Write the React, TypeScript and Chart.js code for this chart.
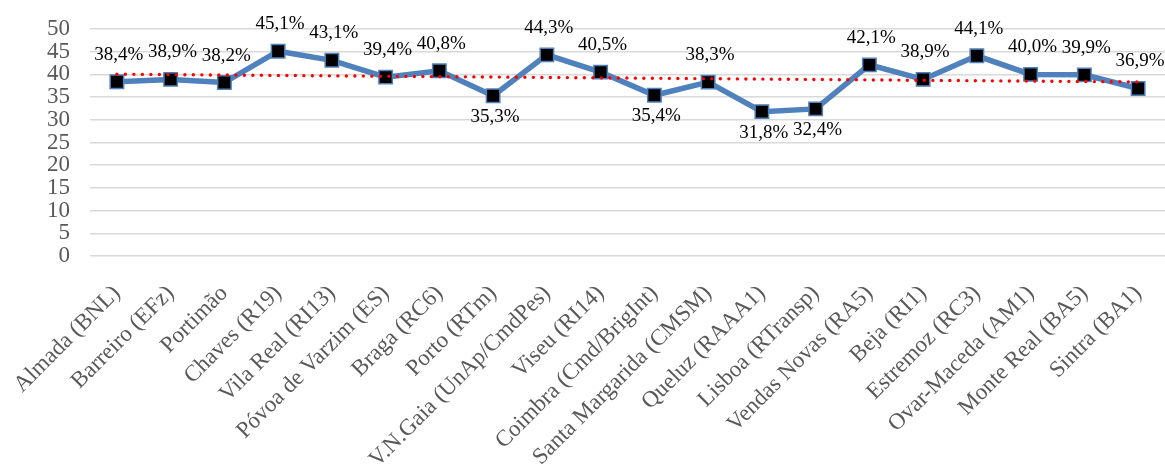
import React, { useEffect, useRef } from "react";
import { Chart, registerables } from "chart.js";

Chart.register(...registerables);

const units: string[] = [
  "Almada (BNL)",
  "Barreiro (EFz)",
  "Portimão",
  "Chaves (R19)",
  "Vila Real (RI13)",
  "Póvoa de Varzim (ES)",
  "Braga (RC6)",
  "Porto (RTm)",
  "V.N.Gaia (UnAp/CmdPes)",
  "Viseu (RI14)",
  "Coimbra (Cmd/BrigInt)",
  "Santa Margarida (CMSM)",
  "Queluz (RAAA1)",
  "Lisboa (RTransp)",
  "Vendas Novas (RA5)",
  "Beja (RI1)",
  "Estremoz (RC3)",
  "Ovar-Maceda (AM1)",
  "Monte Real (BA5)",
  "Sintra (BA1)",
];

const percentages: number[] = [
  38.4, 38.9, 38.2, 45.1, 43.1, 39.4, 40.8, 35.3, 44.3, 40.5,
  35.4, 38.3, 31.8, 32.4, 42.1, 38.9, 44.1, 40.0, 39.9, 36.9,
];

// values whose label sits under the marker
const labelsBelow: number[] = [7, 10, 12, 13];

const yTicks: number[] = [0, 5, 10, 15, 20, 25, 30, 35, 40, 45, 50];

// least-squares linear trend over the series
function linearTrend(values: number[]): number[] {
  const n = values.length;
  const mx = (n - 1) / 2;
  const my = values.reduce((a, b) => a + b, 0) / n;
  let num = 0;
  let den = 0;
  values.forEach((v, i) => {
    num += (i - mx) * (v - my);
    den += (i - mx) * (i - mx);
  });
  const slope = num / den;
  return values.map((_, i) => my + slope * (i - mx));
}

const SERIF = '"Liberation Serif", "Times New Roman", serif';

// percentage labels next to each marker
const valueLabels = {
  id: "valueLabels",
  afterDatasetsDraw(chart: any) {
    const meta = chart.getDatasetMeta(1);
    const ctx = chart.ctx;
    ctx.save();
    ctx.font = `19px ${SERIF}`;
    ctx.fillStyle = "#000000";
    ctx.textAlign = "center";
    ctx.textBaseline = "middle";
    meta.data.forEach((pt: any, i: number) => {
      const text = percentages[i].toFixed(1).replace(".", ",") + "%";
      const dy = labelsBelow.includes(i) ? 21 : -27;
      ctx.fillText(text, pt.x + 2, pt.y + dy);
    });
    ctx.restore();
  },
};

export default function App() {
  const canvasRef = useRef<HTMLCanvasElement | null>(null);

  useEffect(() => {
    if (!canvasRef.current) return;
    const chart = new Chart(canvasRef.current, {
      type: "line",
      data: {
        labels: units,
        datasets: [
          {
            label: "Tendência",
            data: linearTrend(percentages),
            borderColor: "#FF0000",
            borderWidth: 3.4,
            borderDash: [0, 8.5],
            borderCapStyle: "round",
            pointRadius: 0,
            fill: false,
            order: 0,
          },
          {
            label: "Percentagem",
            data: percentages,
            borderColor: "#4F81BD",
            borderWidth: 5.5,
            pointStyle: "rect",
            pointRadius: 9.5,
            pointBackgroundColor: "#000000",
            pointBorderColor: "#4F81BD",
            pointBorderWidth: 1.5,
            fill: false,
            order: 1,
          },
        ],
      },
      options: {
        responsive: false,
        animation: false,
        layout: {
          autoPadding: false,
          padding: { top: 29, left: 0, right: 0, bottom: 0 },
        },
        plugins: {
          legend: { display: false },
          tooltip: { enabled: false },
        },
        scales: {
          x: {
            offset: true,
            grid: { display: false },
            border: { display: false },
            ticks: {
              autoSkip: false,
              minRotation: 45,
              maxRotation: 45,
              padding: 16,
              color: "#595959",
              font: { family: SERIF, size: 23 },
            },
            afterFit(scale: any) {
              scale.height = 208;
              scale.paddingLeft = 0;
              scale.paddingRight = 0;
            },
          },
          y: {
            min: 0,
            max: 50,
            afterBuildTicks(scale: any) {
              scale.ticks = yTicks.map((v) => ({ value: v }));
            },
            grid: {
              color: "#D9D9D9",
              lineWidth: 1.5,
              drawTicks: false,
            },
            border: { display: false },
            ticks: {
              autoSkip: false,
              padding: 20,
              color: "#595959",
              font: { family: SERIF, size: 23 },
            },
            afterFit(scale: any) {
              scale.width = 90;
              scale.paddingTop = 0;
              scale.paddingBottom = 0;
            },
          },
        },
      },
      plugins: [valueLabels],
    });
    return () => chart.destroy();
  }, []);

  return (
    <div style={{ position: "absolute", left: 0, top: 0, width: 1165, height: 464, background: "#ffffff" }}>
      <canvas ref={canvasRef} width={1165} height={464} />
    </div>
  );
}
